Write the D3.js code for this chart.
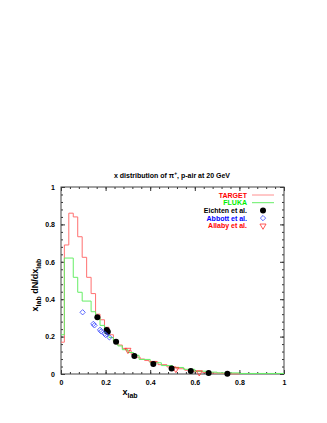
<!DOCTYPE html>
<html>
<head>
<meta charset="utf-8">
<script src="https://cdn.jsdelivr.net/npm/d3@7"></script>
<style>
  body { margin: 0; background: #fff; }
  text { font-family: "Liberation Sans", Arial, sans-serif; font-weight: bold; }
</style>
</head>
<body>
<div id="chart"></div>
<script>
// histogram bin edges (x_lab) and heights
var targetEdges = [0, 0.015, 0.035, 0.055, 0.075, 0.095, 0.115, 0.135, 0.155, 0.175, 0.195, 0.215, 0.235, 0.255, 0.275, 0.295, 0.315, 0.335, 0.355, 0.375, 0.395, 0.435, 0.475, 0.515, 0.555, 0.595, 0.635, 0.675, 0.715, 0.755, 0.8];
var targetVals  = [0.17, 0.69, 0.86, 0.84, 0.734, 0.624, 0.517, 0.43, 0.32, 0.29, 0.25, 0.21, 0.175, 0.155, 0.137, 0.125, 0.105, 0.09, 0.08, 0.072, 0.065, 0.05, 0.038, 0.028, 0.02, 0.013, 0.008, 0.005, 0.003, 0.001];

var flukaEdges = [0, 0.015, 0.055, 0.075, 0.095, 0.135, 0.155, 0.175, 0.195, 0.215, 0.235, 0.255, 0.275, 0.3, 0.325, 0.35, 0.4, 0.45, 0.5, 0.55, 0.6, 0.65, 0.7, 0.8, 1.0];
var flukaVals  = [0.21, 0.62, 0.517, 0.437, 0.39, 0.333, 0.30, 0.26, 0.22, 0.195, 0.175, 0.15, 0.13, 0.115, 0.1, 0.078, 0.06, 0.045, 0.035, 0.025, 0.015, 0.01, 0.006, 0.003];

var eichtenX = [0.163, 0.205, 0.21, 0.247, 0.329, 0.414, 0.496, 0.582, 0.662, 0.746];
var eichtenY = [0.303, 0.235, 0.226, 0.173, 0.096, 0.053, 0.030, 0.016, 0.006, 0.002];

var abbottX = [0.097, 0.145, 0.15, 0.175, 0.18, 0.195, 0.2, 0.217];
var abbottY = [0.33, 0.268, 0.26, 0.236, 0.228, 0.216, 0.209, 0.196];

var allabyX = [0.3, 0.415, 0.515, 0.62];
var allabyY = [0.128, 0.058, 0.026, 0.008];

var xTicks = [0, 0.2, 0.4, 0.6, 0.8, 1];
var yTicks = [0, 0.2, 0.4, 0.6, 0.8, 1];

var legendNames  = ["TARGET", "FLUKA", "Eichten et al.", "Abbott et al.", "Allaby et al."];
var legendColors = ["#ff0000", "#00ee00", "#000000", "#0000ff", "#ff0000"];

var W = 327, H = 423;
var plotL = 61, plotR = 284, plotT = 187, plotB = 374;

var svg = d3.select("#chart").append("svg")
  .attr("width", W)
  .attr("height", H);

var x = d3.scaleLinear().domain([0, 1]).range([plotL, plotR]);
var y = d3.scaleLinear().domain([0, 1]).range([plotB, plotT]);

var fmt = function(d) { return d === 0 || d === 1 ? String(d) : d.toFixed(1); };

// axes, ticks pointing inward, mirrored
function drawAxes() {
  var minor = d3.range(0, 1.0001, 0.04);
  var axes = [
    [d3.axisBottom(x), "translate(0," + plotB + ")", true, xTicks],
    [d3.axisTop(x), "translate(0," + plotT + ")", false, xTicks],
    [d3.axisLeft(y), "translate(" + plotL + ",0)", true, yTicks],
    [d3.axisRight(y), "translate(" + plotR + ",0)", false, yTicks]
  ];
  axes.forEach(function(a) {
    var g = svg.append("g").attr("transform", a[1]);
    g.call(a[0].tickValues(minor).tickSize(-2).tickFormat(""));
    g.select(".domain").remove();
    g.selectAll("line").attr("stroke", "#333");
    var g2 = svg.append("g").attr("transform", a[1]);
    g2.call(a[0].tickValues(a[3]).tickSize(-4).tickPadding(6).tickFormat(a[2] ? fmt : ""));
    g2.select(".domain").remove();
    g2.selectAll("line").attr("stroke", "#333");
    g2.selectAll("text").attr("font-size", "7px").attr("fill", "#000");
  });
  svg.append("rect")
    .attr("x", plotL).attr("y", plotT)
    .attr("width", plotR - plotL).attr("height", plotB - plotT)
    .attr("fill", "none").attr("stroke", "#444").attr("stroke-width", 1);
}
drawAxes();

function histPath(edges, vals) {
  var pts = vals.map(function(v, i) { return [edges[i], v]; });
  pts.push([edges[edges.length - 1], vals[vals.length - 1]]);
  return d3.line().x(function(d) { return x(d[0]); }).y(function(d) { return y(d[1]); })
    .curve(d3.curveStepAfter)(pts);
}

svg.append("path").attr("d", histPath(targetEdges, targetVals))
  .attr("fill", "none").attr("stroke", "#ff7070").attr("stroke-width", 1);
svg.append("path").attr("d", histPath(flukaEdges, flukaVals))
  .attr("fill", "none").attr("stroke", "#66ee66").attr("stroke-width", 1);

// Allaby triangles
var tri = d3.symbol().type(d3.symbolTriangle).size(16);
svg.selectAll(".allaby").data(allabyX).enter().append("path")
  .attr("d", tri)
  .attr("transform", function(d, i) { return "translate(" + x(d) + "," + y(allabyY[i]) + ") rotate(180)"; })
  .attr("fill", "none").attr("stroke", "#ff3030").attr("stroke-width", 0.8);

// Eichten filled circles
svg.selectAll(".eichten").data(eichtenX).enter().append("circle")
  .attr("cx", function(d) { return x(d); })
  .attr("cy", function(d, i) { return y(eichtenY[i]); })
  .attr("r", 3).attr("fill", "#000");

// Abbott diamonds
var dia = d3.symbol().type(d3.symbolDiamond2).size(18);
svg.selectAll(".abbott").data(abbottX).enter().append("path")
  .attr("d", dia)
  .attr("transform", function(d, i) { return "translate(" + x(d) + "," + y(abbottY[i]) + ")"; })
  .attr("fill", "none").attr("stroke", "#3344ff").attr("stroke-width", 0.8);

// legend
var lg = svg.append("g");
legendNames.forEach(function(name, i) {
  var ly = 195 + i * 7.7;
  lg.append("text").attr("x", 247).attr("y", ly + 2.5)
    .attr("text-anchor", "end").attr("font-size", "7px")
    .attr("fill", legendColors[i]).text(name);
  if (i === 0) {
    lg.append("line").attr("x1", 252).attr("x2", 274).attr("y1", ly).attr("y2", ly).attr("stroke", "#ff9090");
  } else if (i === 1) {
    lg.append("line").attr("x1", 252).attr("x2", 274).attr("y1", ly).attr("y2", ly).attr("stroke", "#66ee66");
  } else if (i === 2) {
    lg.append("circle").attr("cx", 263).attr("cy", ly).attr("r", 3).attr("fill", "#000");
  } else if (i === 3) {
    lg.append("path").attr("d", dia).attr("transform", "translate(263," + ly + ")")
      .attr("fill", "none").attr("stroke", "#3344ff").attr("stroke-width", 0.8);
  } else {
    lg.append("path").attr("d", tri).attr("transform", "translate(263," + ly + ") rotate(180)")
      .attr("fill", "none").attr("stroke", "#ff3030").attr("stroke-width", 0.8);
  }
});

// title
var title = svg.append("text").attr("x", 172).attr("y", 178)
  .attr("text-anchor", "middle").attr("font-size", "7px").attr("fill", "#000");
title.append("tspan").text("x distribution of \u03c0");
title.append("tspan").attr("dy", -3).attr("font-size", "5px").text("+");
title.append("tspan").attr("dy", 3).text(", p-air at 20 GeV");

// x axis title
var xt = svg.append("text").attr("x", 130).attr("y", 395)
  .attr("text-anchor", "middle").attr("font-size", "9px").attr("fill", "#000");
xt.append("tspan").text("x");
xt.append("tspan").attr("dy", 3).attr("font-size", "7px").text("lab");

// y axis title
var yt = svg.append("text")
  .attr("transform", "translate(38,285) rotate(-90)")
  .attr("text-anchor", "middle").attr("font-size", "9px").attr("fill", "#000");
yt.append("tspan").text("x");
yt.append("tspan").attr("dy", 3).attr("font-size", "7px").text("lab");
yt.append("tspan").attr("dy", -3).text(" dN/dx");
yt.append("tspan").attr("dy", 3).attr("font-size", "7px").text("lab");
</script>
</body>
</html>
